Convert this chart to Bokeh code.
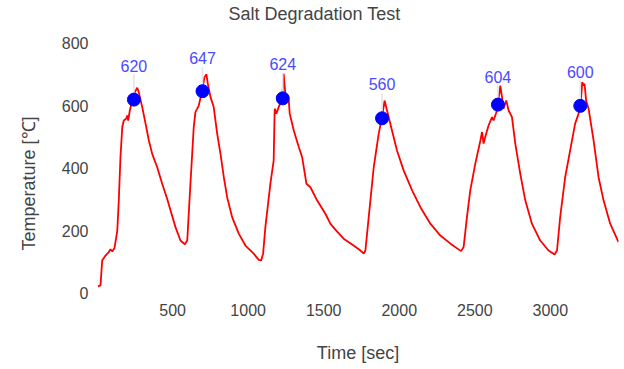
from bokeh.plotting import figure
from bokeh.models import Range1d, FixedTicker, Title
from bokeh.core.properties import value
from bokeh.embed import file_html
from bokeh.resources import INLINE

# Measured temperature trace (seconds, degrees C)
time_s = [5, 23, 34, 56, 78, 89, 101, 116, 134, 144, 155, 167, 177, 193, 200, 206,
          217, 233, 250, 266, 276, 299, 321, 343, 365, 398, 431, 464, 486, 519,
          552, 581, 597, 618, 640, 651, 663, 673, 696, 711, 724, 733, 751, 772,
          795, 817, 839, 861, 894, 938, 982, 1037, 1070, 1086, 1099, 1114, 1147,
          1169, 1174, 1176, 1187, 1202, 1225, 1235, 1247, 1269, 1275, 1302, 1335,
          1357, 1386, 1412, 1456, 1511, 1544, 1577, 1632, 1698, 1743, 1765, 1776,
          1798, 1831, 1864, 1886, 1903, 1919, 1952, 1985, 2029, 2085, 2140, 2206,
          2272, 2339, 2409, 2426, 2448, 2470, 2503, 2537, 2548, 2558, 2569, 2591,
          2614, 2624, 2647, 2669, 2680, 2690, 2708, 2724, 2746, 2768, 2801, 2834,
          2878, 2933, 2988, 3028, 3044, 3065, 3098, 3131, 3164, 3187, 3204, 3211,
          3220, 3226, 3237, 3253, 3286, 3319, 3352, 3396, 3451]
temp_c = [21, 24, 104, 120, 131, 140, 133, 145, 200, 297, 436, 532, 553, 559, 569, 553,
          585, 617, 644, 658, 644, 596, 543, 489, 446, 403, 350, 302, 265, 211,
          168, 156, 168, 350, 532, 580, 591, 601, 649, 692, 701, 671, 628, 596,
          511, 446, 371, 307, 243, 190, 152, 126, 106, 104, 126, 211, 350,
          425, 553, 591, 575, 596, 623, 703, 633, 617, 575, 521, 468,
          436, 350, 339, 297, 254, 222, 203, 174, 152, 136, 126, 136,
          243, 403, 511, 564, 617, 585, 521, 457, 393, 329, 275, 222,
          184, 158, 134, 147, 243, 329, 414, 489, 516, 479, 500, 537,
          564, 553, 585, 665, 628, 591, 617, 585, 564, 479, 382, 297,
          222, 168, 136, 123, 136, 243, 371, 457, 543, 575, 628, 676,
          665, 671, 617, 591, 489, 371, 297, 222, 163]

# Annotated peak readings per cycle
peak_time = [244, 698, 1229, 1886, 2653, 3198]
peak_temp = [620, 647, 624, 560, 604, 600]
peak_text = [str(v) for v in peak_temp]

x_ticks = [500, 1000, 1500, 2000, 2500, 3000]
y_ticks = [0, 200, 400, 600, 800]

FONT = "Liberation Sans"
TEXT = "#444444"

Y_LO, Y_HI = -14.7, 860.9
FRAME_H = 369 - 24 - 72

p = figure(width=624, height=369, output_backend="svg", toolbar_location=None,
           x_range=Range1d(3, 3451), y_range=Range1d(Y_LO, Y_HI),
           min_border_left=97, min_border_right=6, min_border_top=24,
           min_border_bottom=72)
p.outline_line_color = None
p.background_fill_color = "white"
p.border_fill_color = "white"
p.grid.visible = False

title = Title(text="Salt Degradation Test", align="left", offset=131, standoff=1,
              text_font=FONT, text_font_size="18px", text_font_style="normal",
              text_color=TEXT)
p.add_layout(title, "above")

# vertical axis title, run up from below the frame's mid-height
ytitle = Title(text="Temperature [℃]", align="left", offset=47, standoff=36,
               vertical_align="top", text_font=FONT, text_font_size="18px",
               text_font_style="normal", text_color=TEXT)
p.add_layout(ytitle, "left")

for ax in (p.xaxis[0], p.yaxis[0]):
    ax.axis_line_color = None
    ax.major_tick_line_color = None
    ax.minor_tick_line_color = None
    ax.major_label_text_font = FONT
    ax.major_label_text_font_size = "16px"
    ax.major_label_text_color = TEXT
    ax.axis_label_text_font = FONT
    ax.axis_label_text_font_size = "18px"
    ax.axis_label_text_font_style = "normal"
    ax.axis_label_text_color = TEXT

p.xaxis.ticker = FixedTicker(ticks=x_ticks)
p.yaxis.ticker = FixedTicker(ticks=y_ticks)
p.xaxis.axis_label = "Time [sec]"
p.xaxis.major_label_standoff = 0
p.xaxis.axis_label_standoff = 24
p.yaxis.major_label_standoff = 3

p.line(time_s, temp_c, line_color="#ff0000", line_width=1.8)

# Thin leader lines from each peak marker up to its value label
label_px = [34, 33, 34, 34, 28, 34]
px_per_unit = FRAME_H / (Y_HI - Y_LO)
lead_top = [v + (o - 9) / px_per_unit for v, o in zip(peak_temp, label_px)]
p.segment(x0=peak_time, y0=peak_temp, x1=peak_time, y1=lead_top,
          line_color="#e3e3e3", line_width=1.5)

p.scatter(peak_time, peak_temp, size=13, fill_color="#0000ff", line_color="#0000ff")

p.text(x=peak_time, y=peak_temp, text=peak_text, y_offset=[-o for o in label_px],
       text_align="center", text_baseline="middle", text_font=value(FONT),
       text_font_size="16px", text_color="#4a4aff")

open("out.html", "w").write(file_html(p, INLINE))
